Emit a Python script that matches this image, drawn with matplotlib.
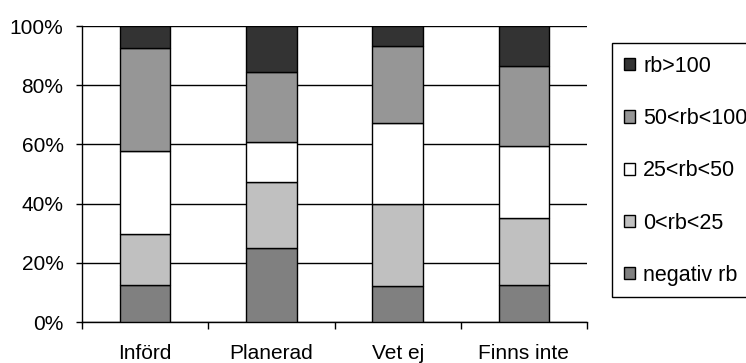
import matplotlib
matplotlib.use("Agg")
import matplotlib.pyplot as plt
from matplotlib.patches import Patch, Rectangle
import numpy as np

plt.rcParams['font.family'] = ['Liberation Sans', 'DejaVu Sans']

categories = ["Införd", "Planerad", "Vet ej", "Finns inte"]
series_labels = ["negativ rb", "0<rb<25", "25<rb<50", "50<rb<100", "rb>100"]
series_colors = ["#808080", "#c0c0c0", "#ffffff", "#969696", "#333333"]

# share of each class per category (percent), bottom to top
negativ = [12.6, 24.9, 12.2, 12.6]
rb_0_25 = [17.0, 22.3, 27.6, 22.4]
rb_25_50 = [28.3, 13.5, 27.5, 24.5]
rb_50_100 = [34.6, 23.8, 25.8, 26.9]
rb_100 = [7.5, 15.5, 6.9, 13.6]

y_ticks = [0, 20, 40, 60, 80, 100]
y_tick_labels = ["0%", "20%", "40%", "60%", "80%", "100%"]

FS = 15
W, H = 746, 363
fig = plt.figure(figsize=(W / 100, H / 100), dpi=100)
ax = fig.add_axes([82 / W, (H - 322) / H, (587 - 82) / W, (322 - 26) / H])

series = [negativ, rb_0_25, rb_25_50, rb_50_100, rb_100]
x = np.arange(len(categories)) + 0.5
bottom = np.zeros(len(categories))
handles = []
for vals, lab, col in zip(series, series_labels, series_colors):
    ax.bar(x, vals, width=0.4, bottom=bottom, color=col, edgecolor="black",
           linewidth=1.0, zorder=3)
    bottom += np.array(vals)
    handles.append(Patch(facecolor=col, edgecolor="black", linewidth=1.0, label=lab))

ax.set_xlim(0, len(categories))
ax.set_ylim(0, 100)
ax.set_yticks(y_ticks)
ax.set_yticklabels(y_tick_labels, fontsize=FS)
ax.yaxis.grid(True, color="black", linewidth=1.0, zorder=0)
ax.tick_params(axis="y", length=4.3, width=1, pad=9)

ax.set_xticks(np.arange(len(categories) + 1))
ax.set_xticklabels([])
ax.set_xticks(x, minor=True)
ax.set_xticklabels(categories, minor=True, fontsize=FS)
ax.tick_params(axis="x", which="major", length=5, width=1)
ax.tick_params(axis="x", which="minor", length=0, pad=15.5)

for s in ["top", "right"]:
    ax.spines[s].set_visible(False)
for s in ["left", "bottom"]:
    ax.spines[s].set_linewidth(1.0)

# legend frame running past the right edge of the figure
fig.patches.append(Rectangle((612 / W, (H - 297) / H), (780 - 612) / W, (297 - 43) / H,
                             transform=fig.transFigure, facecolor="white",
                             edgecolor="black", linewidth=1.0))
fig.legend(handles[::-1], series_labels[::-1], loc="upper left",
           bbox_to_anchor=(624 / W, (H - 56) / H), frameon=False, fontsize=15.5,
           handlelength=0.5, handleheight=0.5, handletextpad=0.4,
           labelspacing=1.45, borderaxespad=0, borderpad=0)

fig.savefig("out.png", dpi=100)
